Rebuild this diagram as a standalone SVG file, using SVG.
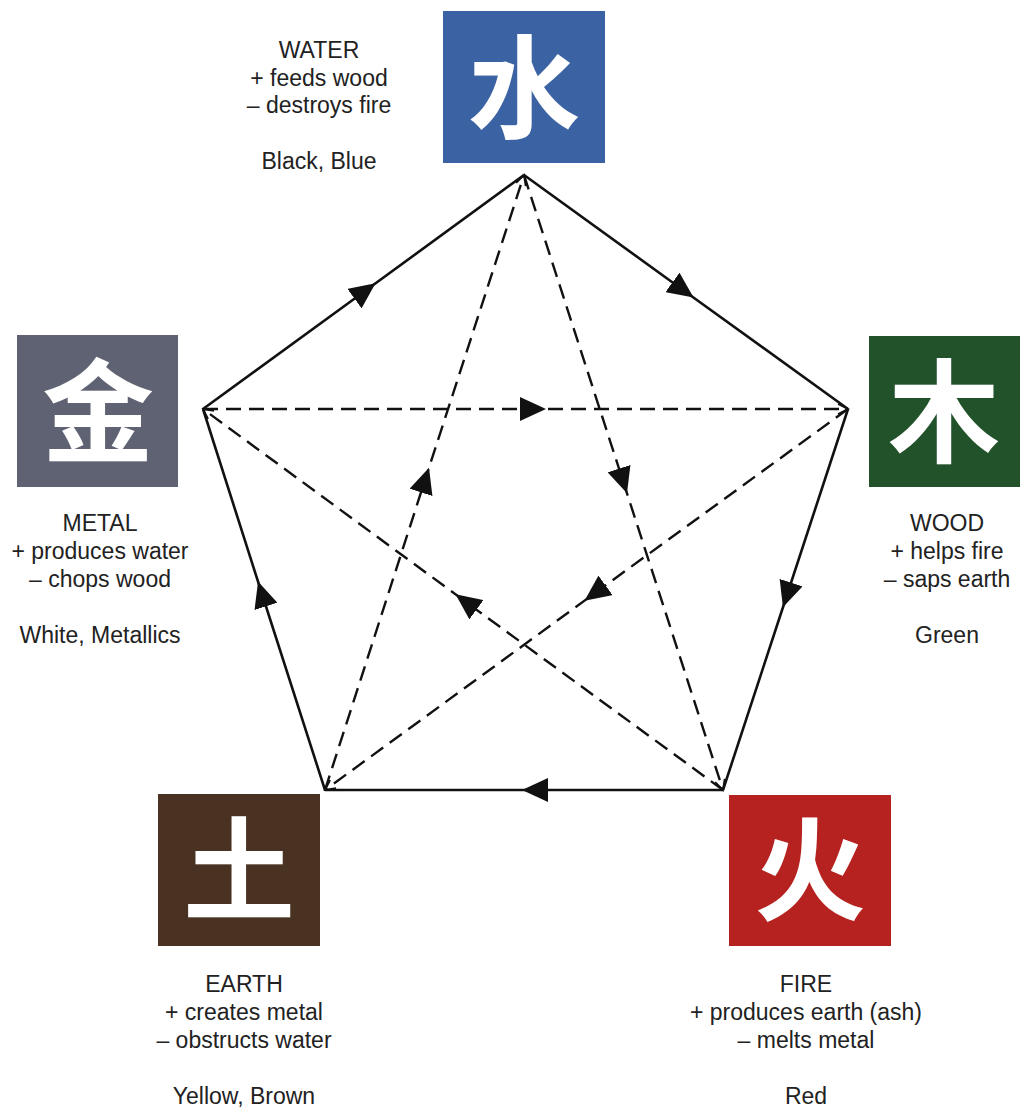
<svg xmlns="http://www.w3.org/2000/svg" width="1020" height="1109" viewBox="0 0 1020 1109">
<defs>
<style>
.lbl{font-family:"Liberation Sans",Arial,sans-serif;font-size:23px;fill:#222222;text-anchor:middle}
.ch{font-family:"Noto Sans CJK SC","Noto Sans CJK JP",sans-serif;font-size:112px;font-weight:bold;fill:#ffffff;text-anchor:middle}
.solid{fill:none;stroke:#111;stroke-width:2.6}
.dash{fill:none;stroke:#111;stroke-width:2.4;stroke-dasharray:15 8}
</style>
<marker id="tri" viewBox="0 0 26 24" refX="13" refY="12" markerWidth="26" markerHeight="24" markerUnits="userSpaceOnUse" orient="auto">
<path d="M0,0 L26,12 L0,24 Z" fill="#111"/>
</marker>
<marker id="chev" viewBox="-12 -7 14 14" refX="0" refY="0" markerWidth="14" markerHeight="14" markerUnits="userSpaceOnUse" orient="auto">
<path d="M-10,-5 L0,0 L-10,5" fill="none" stroke="#111" stroke-width="1.8"/>
</marker>
</defs>
<rect width="1020" height="1109" fill="#ffffff"/>

<g id="connectors">
<polyline class="solid" points="524,175 683,290 848,409" marker-mid="url(#tri)"/>
<polyline class="solid" points="848,409 787,595 723,790" marker-mid="url(#tri)"/>
<polyline class="solid" points="723,790 535,790 325,790" marker-mid="url(#tri)"/>
<polyline class="solid" points="325,790 262,594 203,409" marker-mid="url(#tri)"/>
<polyline class="solid" points="203,409 365,291 524,175" marker-mid="url(#tri)"/>
<polyline class="dash" points="203,409 533,409 848,409" marker-mid="url(#tri)" marker-end="url(#chev)"/>
<polyline class="dash" points="524,175 623,481 723,790" marker-mid="url(#tri)" marker-end="url(#chev)"/>
<polyline class="dash" points="325,790 425,480 524,175" marker-mid="url(#tri)" marker-end="url(#chev)"/>
<polyline class="dash" points="723,790 466,602 203,409" marker-mid="url(#tri)" marker-end="url(#chev)"/>
<polyline class="dash" points="848,409 595,593 325,790" marker-mid="url(#tri)" marker-end="url(#chev)"/>
</g>

<g id="water">
<rect x="443" y="11" width="162" height="152" fill="#3b62a2"/>
<text class="ch" x="524" y="130">水</text>
<text class="lbl" x="319" y="58">WATER</text>
<text class="lbl" x="319" y="86">+ feeds wood</text>
<text class="lbl" x="319" y="113">– destroys fire</text>
<text class="lbl" x="319" y="169">Black, Blue</text>
</g>

<g id="wood">
<rect x="869" y="336" width="151" height="151" fill="#22522a"/>
<text class="ch" x="944" y="454">木</text>
<text class="lbl" x="947" y="531">WOOD</text>
<text class="lbl" x="947" y="559">+ helps fire</text>
<text class="lbl" x="947" y="587">– saps earth</text>
<text class="lbl" x="947" y="643">Green</text>
</g>

<g id="metal">
<rect x="17" y="335" width="161" height="152" fill="#5f6272"/>
<text class="ch" x="98" y="454">金</text>
<text class="lbl" x="100" y="531">METAL</text>
<text class="lbl" x="100" y="559">+ produces water</text>
<text class="lbl" x="100" y="587">– chops wood</text>
<text class="lbl" x="100" y="643">White, Metallics</text>
</g>

<g id="earth">
<rect x="158" y="794" width="162" height="152" fill="#4a3222"/>
<text class="ch" x="239" y="912">土</text>
<text class="lbl" x="244" y="992">EARTH</text>
<text class="lbl" x="244" y="1020">+ creates metal</text>
<text class="lbl" x="244" y="1048">– obstructs water</text>
<text class="lbl" x="244" y="1104">Yellow, Brown</text>
</g>

<g id="fire">
<rect x="729" y="795" width="162" height="151" fill="#b52220"/>
<text class="ch" x="810" y="912">火</text>
<text class="lbl" x="806" y="992">FIRE</text>
<text class="lbl" x="806" y="1020">+ produces earth (ash)</text>
<text class="lbl" x="806" y="1048">– melts metal</text>
<text class="lbl" x="806" y="1104">Red</text>
</g>
</svg>
